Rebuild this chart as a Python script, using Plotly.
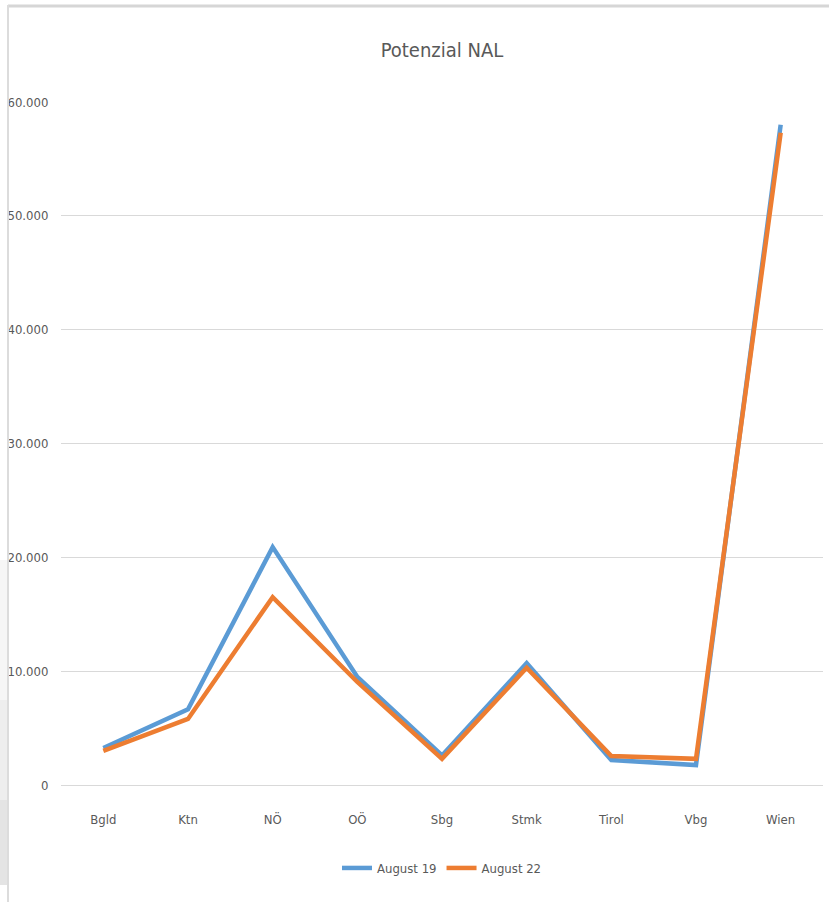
import plotly.graph_objects as go

categories = ["Bgld", "Ktn", "NÖ", "OÖ", "Sbg", "Stmk", "Tirol", "Vbg", "Wien"]
aug19 = [3250, 6650, 20900, 9500, 2600, 10700, 2200, 1750, 58000]
aug22 = [3000, 5800, 16500, 9050, 2300, 10300, 2550, 2300, 57300]
series_names = ["August 19", "August 22"]
colors = ["#5B9BD5", "#ED7D31"]
y_ticks = [0, 10000, 20000, 30000, 40000, 50000, 60000]

FONT = "DejaVu Sans Condensed, Liberation Sans Narrow, sans-serif"

W, H = 829, 902
L, R, T, B = 61, 6, 102, 117
PW, PH = W - L - R, H - T - B


def px_x(p):
    return (p - L) / PW


def px_y(p):
    return (H - B - p) / PH


fig = go.Figure()
for name, vals, col in zip(series_names, [aug19, aug22], colors):
    fig.add_trace(go.Scatter(x=categories, y=vals, mode="lines", name=name,
                             line=dict(color=col, width=4.5)))

frame_shapes = [
    dict(type="line", xref="paper", yref="paper",
         x0=px_x(8), x1=px_x(835), y0=px_y(6), y1=px_y(6),
         line=dict(color="#D6D6D6", width=3)),
    dict(type="line", xref="paper", yref="paper",
         x0=px_x(8), x1=px_x(8), y0=px_y(5), y1=px_y(905),
         line=dict(color="#DCDCDC", width=2)),
]
# soft shadow on the left edge
for (y0, y1, c) in [(560, 700, "#F6F6F6"), (700, 800, "#EEEEEE"), (800, 885, "#E4E4E4")]:
    frame_shapes.append(dict(type="rect", xref="paper", yref="paper",
                             x0=px_x(0), x1=px_x(7), y0=px_y(y1), y1=px_y(y0),
                             line=dict(width=0), fillcolor=c, layer="below"))

fig.update_layout(
    width=W, height=H,
    paper_bgcolor="white", plot_bgcolor="white",
    separators=",.",
    margin=dict(l=L, r=R, t=T, b=B),
    title=dict(text="Potenzial NAL", x=0.5, xref="paper", xanchor="center",
               y=1 - 50 / H, yanchor="middle",
               font=dict(family=FONT, size=20, color="#595959")),
    font=dict(family=FONT, size=12, color="#595959"),
    showlegend=True,
    legend=dict(orientation="h", x=0.5, xanchor="center", xref="paper",
                y=px_y(868), yanchor="middle",
                font=dict(family=FONT, size=13, color="#595959"),
                itemwidth=30, tracegroupgap=0),
    xaxis=dict(type="category", range=[-0.5, 8.5], showgrid=False,
               showline=False, zeroline=False,
               ticks="outside", ticklen=22, tickcolor="rgba(0,0,0,0)",
               tickfont=dict(family=FONT, size=13, color="#595959")),
    yaxis=dict(range=[0, 60000], tickvals=y_ticks, tickformat=",.0f",
               showgrid=True, gridcolor="#D9D9D9", gridwidth=1.3,
               zeroline=True, zerolinecolor="#D9D9D9", zerolinewidth=1.3,
               showline=False, ticks="outside", ticklen=9,
               tickcolor="rgba(0,0,0,0)",
               tickfont=dict(family=FONT, size=13, color="#595959")),
    shapes=frame_shapes,
)

fig.write_html("out.html", config={"displayModeBar": False},
               post_script="document.body.style.margin='0';document.body.style.overflow='hidden';")
